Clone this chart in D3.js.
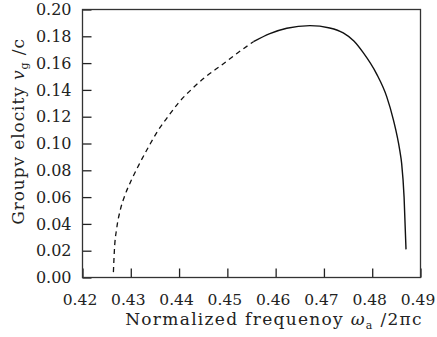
<!DOCTYPE html>
<html>
<head>
<meta charset="utf-8">
<script src="https://cdn.jsdelivr.net/npm/d3@7"></script>
<style>
  body { margin: 0; background: #fff; }
  svg { display: block; }
  text { font-family: "DejaVu Serif", serif; fill: #222; }
</style>
</head>
<body>
<svg width="437" height="337"></svg>
<script>
// group velocity vs normalized frequency
// dashed branch (lower frequencies)
const dashedFreq = [0.4264, 0.4266, 0.4271, 0.4278, 0.4288, 0.4301, 0.4316, 0.4336, 0.4357, 0.4378, 0.4398, 0.4426, 0.4454, 0.4488, 0.4519, 0.4554]
const dashedVel = [0.004, 0.020, 0.037, 0.050, 0.0615, 0.0725, 0.0835, 0.097, 0.110, 0.1205, 0.130, 0.1405, 0.1495, 0.1585, 0.167, 0.176]
// solid branch
const solidFreq = [0.4554, 0.4588, 0.4623, 0.4671, 0.4712, 0.4740, 0.4762, 0.4781, 0.4809, 0.4830, 0.4844, 0.4857, 0.4861, 0.4866, 0.4870]
const solidVel = [0.176, 0.182, 0.186, 0.188, 0.1862, 0.1825, 0.1765, 0.168, 0.152, 0.135, 0.1175, 0.095, 0.085, 0.060, 0.021]

const xTicks = [0.42, 0.43, 0.44, 0.45, 0.46, 0.47, 0.48, 0.49]
const yTicks = [0.00, 0.02, 0.04, 0.06, 0.08, 0.10, 0.12, 0.14, 0.16, 0.18, 0.20]

const svg = d3.select("svg")
const margin = { top: 9.5, right: 16.5, bottom: 59.5, left: 82.5 }
const width = +svg.attr("width") - margin.left - margin.right
const height = +svg.attr("height") - margin.top - margin.bottom
const g = svg.append("g")
  .attr("transform", "translate(" + margin.left + "," + margin.top + ")")

const x = d3.scaleLinear().domain([0.42, 0.49]).range([0, width])
const y = d3.scaleLinear().domain([0, 0.2]).range([height, 0])

// x axis, ticks pointing inward
const xAxis = g.append("g")
  .attr("transform", "translate(0," + height + ")")
  .call(d3.axisBottom(x).tickValues(xTicks).tickFormat(d3.format(".2f"))
    .tickSizeInner(-9).tickSizeOuter(0).tickPadding(16.5))
xAxis.attr("font-family", null).attr("font-size", 15.5)
xAxis.select(".domain").remove()
xAxis.selectAll("line").attr("stroke", "#222").attr("stroke-width", 1.3)
xAxis.selectAll("text").attr("fill", "#222").attr("dx", -3)

const yAxis = g.append("g")
  .call(d3.axisLeft(y).tickValues(yTicks).tickFormat(d3.format(".2f"))
    .tickSizeInner(-9).tickSizeOuter(0).tickPadding(11))
yAxis.attr("font-family", null).attr("font-size", 16)
yAxis.select(".domain").remove()
yAxis.selectAll("line").attr("stroke", "#222").attr("stroke-width", 1.3)
yAxis.selectAll("text").attr("fill", "#222")

// frame
g.append("rect")
  .attr("width", width)
  .attr("height", height)
  .attr("fill", "none")
  .attr("stroke", "#333")
  .attr("stroke-width", 1.3)

const line = d3.line()
  .x((d) => x(d[0]))
  .y((d) => y(d[1]))
  .curve(d3.curveMonotoneX)

g.append("path")
  .datum(d3.zip(dashedFreq, dashedVel))
  .attr("d", line)
  .attr("fill", "none")
  .attr("stroke", "#111")
  .attr("stroke-width", 1.3)
  .attr("stroke-dasharray", "5,4")

g.append("path")
  .datum(d3.zip(solidFreq, solidVel))
  .attr("d", line)
  .attr("fill", "none")
  .attr("stroke", "#111")
  .attr("stroke-width", 1.4)

// axis titles
const xt = svg.append("text")
  .attr("x", 274)
  .attr("y", 325)
  .attr("text-anchor", "middle")
  .attr("font-size", 17)
  .attr("letter-spacing", 1.3)
xt.append("tspan").text("Normalized frequenoy ")
xt.append("tspan").attr("font-style", "italic").text("ω")
xt.append("tspan").attr("font-size", 11).attr("dy", 4).text("a")
xt.append("tspan").attr("dy", -4).text(" /2πc")

const yt = svg.append("text")
  .attr("transform", "translate(24,131.5) rotate(-90)")
  .attr("text-anchor", "middle")
  .attr("font-size", 17)
  .attr("letter-spacing", 0.9)
yt.append("tspan").text("Groupv elocity ")
yt.append("tspan").attr("font-style", "italic").text("v")
yt.append("tspan").attr("font-size", 11).attr("dy", 4).text("g")
yt.append("tspan").attr("dy", -4).text(" /c")
</script>
</body>
</html>
